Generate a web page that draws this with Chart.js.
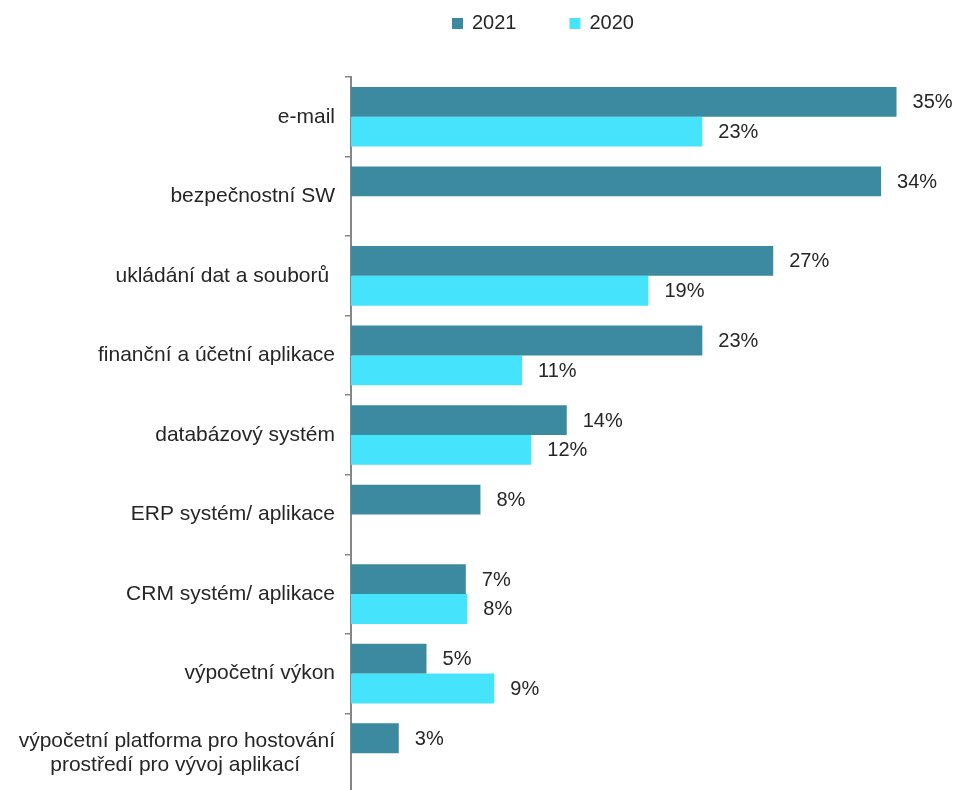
<!DOCTYPE html>
<html>
<head>
<meta charset="utf-8">
<script src="https://cdn.jsdelivr.net/npm/chart.js@4/dist/chart.umd.min.js"></script>
<style>
  html, body { margin: 0; padding: 0; background: #fff; overflow: hidden; }
  #wrap { position: relative; width: 958px; height: 815px; }
</style>
</head>
<body>
<div id="wrap"><canvas id="usage-chart"></canvas></div>
<script>
var categories = [
  'e-mail',
  'bezpečnostní SW',
  'ukládání dat a souborů ',
  'finanční a účetní aplikace',
  'databázový systém',
  'ERP systém/ aplikace',
  'CRM systém/ aplikace',
  'výpočetní výkon',
  ['výpočetní platforma pro hostování', 'prostředí pro vývoj aplikací      ']
];
var seriesNames = ['2021', '2020'];
var values2021 = [35.4, 34.4, 27.4, 22.8, 14.0, 8.4, 7.45, 4.9, 3.1];
var values2020 = [22.8, null, 19.3, 11.1, 11.7, null, 7.55, 9.3, null];
var xMax = 39;

var fontFamily = 'Arial, "Liberation Sans", sans-serif';
var textColor = '#262626';

// value labels at bar ends
var valueLabels = {
  id: 'valueLabels',
  afterDatasetsDraw: function(chart){
    var ctx = chart.ctx;
    ctx.save();
    ctx.font = '20px ' + fontFamily;
    ctx.fillStyle = textColor;
    ctx.textAlign = 'left';
    ctx.textBaseline = 'middle';
    chart.data.datasets.forEach(function(ds, i){
      var meta = chart.getDatasetMeta(i);
      meta.data.forEach(function(bar, j){
        var v = ds.data[j];
        if (v === null || v === undefined) return;
        ctx.fillText(Math.round(v) + '%', bar.x + 16, bar.y + 1);
      });
    });
    ctx.restore();
  }
};

// legend drawn by hand so it can sit off-centre like the original
var topLegend = {
  id: 'topLegend',
  afterDraw: function(chart){
    var ctx = chart.ctx;
    ctx.save();
    ctx.font = '20px ' + fontFamily;
    ctx.textBaseline = 'middle';
    ctx.textAlign = 'left';
    var x = 452;
    chart.data.datasets.forEach(function(ds){
      ctx.fillStyle = ds.backgroundColor;
      ctx.fillRect(x, 18, 11, 11);
      ctx.fillStyle = textColor;
      ctx.fillText(ds.label, x + 20, 23);
      x += 20 + ctx.measureText(ds.label).width + 53;
    });
    ctx.restore();
  }
};

var ctx = document.getElementById('usage-chart').getContext('2d');
var myChart = new Chart(ctx, {
  type: 'bar',
  data: {
    labels: categories,
    datasets: [
      {
        label: seriesNames[0],
        data: values2021,
        backgroundColor: '#3b8a9f',
        categoryPercentage: 0.75,
        barPercentage: 1.0
      },
      {
        label: seriesNames[1],
        data: values2020,
        backgroundColor: '#46e3fd',
        categoryPercentage: 0.75,
        barPercentage: 1.0
      }
    ]
  },
  options: {
    indexAxis: 'y',
    responsive: true,
    maintainAspectRatio: false,
    animation: false,
    layout: {
      padding: { top: 77, right: 6, bottom: 0, left: 0 }
    },
    scales: {
      x: {
        display: false,
        min: 0,
        max: xMax
      },
      y: {
        grid: {
          drawOnChartArea: false,
          drawTicks: true,
          tickLength: 6,
          color: '#868686',
          lineWidth: 1.5
        },
        border: { display: true, color: '#868686', width: 2 },
        ticks: {
          color: textColor,
          autoSkip: false,
          padding: 10,
          font: { family: fontFamily, size: 21, lineHeight: 1.15 }
        },
        afterFit: function(scale){
          scale.width = 351;
        }
      }
    },
    plugins: {
      legend: { display: false },
      tooltip: { enabled: false }
    }
  },
  plugins: [valueLabels, topLegend]
});
</script>
</body>
</html>
